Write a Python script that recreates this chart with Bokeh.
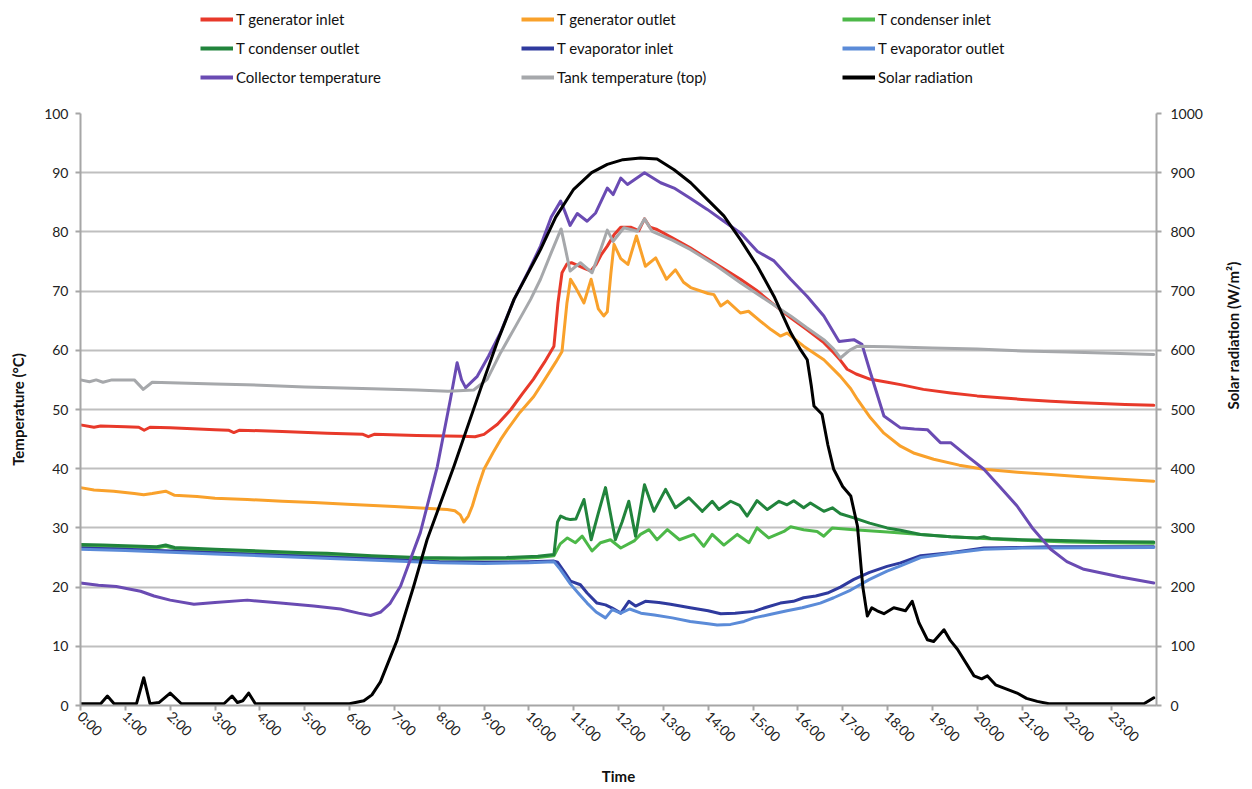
import math
from bokeh.plotting import figure
from bokeh.layouts import column
from bokeh.models import Range1d, LinearAxis, FixedTicker, Legend, LegendItem
from bokeh.embed import file_html
from bokeh.resources import INLINE

# ---------------- data (hours, value) ----------------
hour_ticks = list(range(24))
hour_labels = [f"{h}:00" for h in hour_ticks]
temp_ticks = list(range(0, 101, 10))
solar_ticks = list(range(0, 1001, 100))

gen_in_t = [0.0, 0.3, 0.45, 1.0, 1.3, 1.42, 1.55, 2.0, 3.0, 3.3, 3.42, 3.55, 4.5, 5.5, 6.3, 6.42, 6.55, 7.5, 8.5, 8.8,
            9.0, 9.3, 9.6, 9.85, 10.1, 10.35, 10.56, 10.65, 10.74, 10.85, 10.95, 11.1, 11.25, 11.38, 11.5, 11.62,
            11.75, 11.9, 12.05, 12.27, 12.45, 12.58, 12.7, 12.86, 13.2, 13.6, 14.0, 14.4, 14.72, 15.1, 15.5, 15.84,
            16.2, 16.58, 16.8, 16.95, 17.1, 17.3, 17.62, 18.0, 18.29, 18.8, 19.41, 20.0, 20.52, 21.0, 21.64, 22.2,
            22.75, 23.3, 23.94]
gen_in_v = [47.4, 47.0, 47.2, 47.1, 47.0, 46.5, 47.0, 46.9, 46.6, 46.5, 46.1, 46.5, 46.3, 46.0, 45.8, 45.4, 45.8, 45.6,
            45.5, 45.4, 45.8, 47.5, 50.0, 52.6, 55.1, 58.0, 60.7, 68.0, 73.1, 74.6, 74.8, 74.3, 73.8, 73.4, 74.5, 76.2,
            77.6, 79.5, 80.8, 80.8, 80.2, 82.2, 80.8, 80.4, 79.0, 77.3, 75.4, 73.5, 72.0, 70.0, 67.5, 65.5, 63.5, 61.3,
            59.6, 58.3, 56.8, 56.0, 55.1, 54.6, 54.2, 53.4, 52.8, 52.3, 52.0, 51.7, 51.4, 51.2, 51.0, 50.85, 50.7]

gen_out_t = [0.0, 0.3, 0.74, 1.2, 1.41, 1.6, 1.9, 2.1, 2.6, 3.0, 3.72, 4.5, 5.2, 5.95, 7.0, 8.18, 8.35, 8.47, 8.55, 8.65,
             8.74, 8.87, 9.0, 9.2, 9.37, 9.52, 9.8, 10.11, 10.35, 10.6, 10.74, 10.85, 10.93, 11.05, 11.23, 11.39,
             11.55, 11.67, 11.75, 11.83, 11.9, 12.05, 12.21, 12.4, 12.6, 12.83, 13.07, 13.27, 13.45, 13.61, 14.0,
             14.13, 14.28, 14.43, 14.72, 14.9, 15.17, 15.4, 15.61, 15.76, 16.13, 16.58, 16.95, 17.18, 17.33, 17.62,
             17.92, 18.29, 18.6, 19.03, 19.6, 20.15, 20.9, 21.64, 22.4, 23.2, 23.94]
gen_out_v = [36.8, 36.4, 36.2, 35.8, 35.6, 35.8, 36.2, 35.5, 35.3, 35.0, 34.8, 34.5, 34.3, 34.0, 33.6, 33.1, 32.9, 32.2,
             31.0, 32.0, 33.7, 37.0, 39.9, 42.7, 44.9, 46.6, 49.5, 52.2, 55.0, 58.0, 59.8, 68.0, 72.0, 70.5, 68.0,
             72.0, 67.0, 65.8, 66.5, 73.0, 77.9, 75.5, 74.5, 79.3, 74.2, 75.6, 72.0, 73.6, 71.5, 70.6, 69.6, 69.4,
             67.5, 68.3, 66.3, 66.6, 64.9, 63.5, 62.4, 62.9, 60.7, 58.4, 55.6, 53.5, 51.7, 48.6, 46.0, 43.8, 42.6,
             41.6, 40.6, 39.9, 39.4, 39.0, 38.6, 38.2, 37.9]

cond_in_t = [0.0, 0.5, 1.0, 1.7, 1.9, 2.1, 3.0, 4.0, 5.0, 6.5, 7.5, 8.5, 9.5, 10.2, 10.56, 10.7, 10.86, 11.04, 11.19,
             11.41, 11.6, 11.82, 12.05, 12.35, 12.49, 12.68, 12.86, 13.09, 13.36, 13.68, 13.9, 14.09, 14.35, 14.65,
             14.91, 15.09, 15.35, 15.69, 15.84, 16.13, 16.43, 16.58, 16.77, 17.25, 18.0, 18.74, 19.41, 20.15, 21.0,
             22.0, 23.0, 23.94]
cond_in_v = [27.0, 26.9, 26.8, 26.6, 26.9, 26.5, 26.2, 25.9, 25.6, 25.1, 24.8, 24.7, 24.8, 25.0, 25.3, 27.3, 28.3,
             27.5, 28.6, 26.1, 27.5, 28.0, 26.6, 27.8, 28.9, 29.7, 28.0, 29.7, 28.0, 28.9, 26.9, 28.9, 27.1, 28.9,
             27.5, 30.0, 28.3, 29.4, 30.2, 29.7, 29.4, 28.6, 30.0, 29.7, 29.3, 28.9, 28.5, 28.2, 27.9, 27.6, 27.5,
             27.4]

cond_out_t = [0.0, 0.5, 1.0, 1.7, 1.9, 2.1, 3.0, 4.0, 5.0, 5.5, 6.5, 7.5, 8.5, 9.5, 10.2, 10.56, 10.64, 10.71, 10.82,
              10.93, 11.05, 11.23, 11.39, 11.55, 11.71, 11.93, 12.08, 12.23, 12.38, 12.58, 12.79, 13.05, 13.27, 13.57,
              13.87, 14.09, 14.24, 14.5, 14.7, 14.87, 15.09, 15.32, 15.58, 15.76, 15.91, 16.13, 16.28, 16.58, 16.77,
              16.95, 17.25, 17.6, 17.99, 18.29, 18.74, 19.41, 20.0, 20.15, 20.3, 21.0, 21.64, 22.8, 23.94]
cond_out_v = [27.2, 27.1, 27.0, 26.8, 27.1, 26.7, 26.4, 26.1, 25.8, 25.7, 25.3, 25.0, 24.9, 25.0, 25.2, 25.5, 31.0,
              32.0, 31.6, 31.4, 31.5, 34.8, 28.0, 32.5, 36.8, 28.0, 31.0, 34.5, 28.6, 37.3, 32.8, 36.5, 33.4, 35.1,
              32.8, 34.5, 33.1, 34.5, 33.8, 32.0, 34.6, 33.1, 34.5, 33.9, 34.6, 33.4, 34.2, 32.8, 33.4, 32.4, 31.7,
              30.8, 30.0, 29.6, 28.9, 28.5, 28.3, 28.5, 28.2, 28.0, 27.9, 27.7, 27.6]

evap_in_t = [0.0, 1.0, 2.0, 3.0, 4.0, 5.0, 6.0, 7.0, 8.0, 9.0, 10.0, 10.56, 10.64, 10.8, 10.93, 11.15, 11.3, 11.52,
             11.71, 11.85, 12.05, 12.23, 12.38, 12.6, 12.9, 13.16, 13.6, 14.0, 14.28, 14.6, 15.02, 15.3, 15.61, 15.9,
             16.13, 16.4, 16.66, 16.95, 17.25, 17.6, 17.99, 18.29, 18.74, 19.41, 20.15, 21.0, 21.64, 23.94]
evap_in_v = [26.6, 26.4, 26.1, 25.8, 25.5, 25.2, 24.9, 24.6, 24.3, 24.2, 24.3, 24.4, 24.2, 22.5, 21.0, 20.4, 19.0,
             17.3, 17.0, 16.5, 15.6, 17.6, 16.8, 17.6, 17.4, 17.1, 16.5, 16.0, 15.5, 15.6, 15.9, 16.6, 17.3, 17.6,
             18.2, 18.5, 19.0, 20.0, 21.3, 22.5, 23.5, 24.1, 25.3, 25.8, 26.6, 26.7, 26.8, 26.8]

evap_out_t = [0.0, 1.0, 2.0, 3.0, 4.0, 5.0, 6.0, 7.0, 8.0, 9.0, 10.0, 10.56, 10.7, 10.93, 11.1, 11.3, 11.5, 11.71,
              11.86, 12.05, 12.25, 12.5, 12.8, 13.2, 13.6, 14.0, 14.2, 14.5, 14.8, 15.02, 15.4, 15.76, 16.1, 16.5,
              16.8, 17.18, 17.6, 17.99, 18.29, 18.74, 19.41, 20.15, 21.0, 23.94]
evap_out_v = [26.4, 26.2, 25.9, 25.6, 25.3, 25.0, 24.7, 24.4, 24.1, 24.0, 24.1, 24.3, 23.0, 20.5, 19.0, 17.3, 15.8,
              14.8, 16.2, 15.6, 16.3, 15.6, 15.3, 14.8, 14.2, 13.8, 13.6, 13.7, 14.2, 14.8, 15.4, 16.0, 16.5, 17.3,
              18.2, 19.5, 21.3, 22.7, 23.6, 25.0, 25.7, 26.4, 26.6, 26.7]

coll_t = [0.0, 0.4, 0.8, 1.34, 1.64, 2.0, 2.53, 3.0, 3.72, 4.46, 5.2, 5.8, 6.2, 6.47, 6.7, 6.9, 7.14, 7.36, 7.58,
          7.96, 8.25, 8.4, 8.5, 8.59, 8.85, 9.1, 9.37, 9.67, 10.0, 10.26, 10.5, 10.71, 10.8, 10.92, 11.08, 11.3,
          11.49, 11.75, 11.88, 12.05, 12.2, 12.58, 12.94, 13.24, 13.6, 13.98, 14.35, 14.72, 15.1, 15.47, 15.84,
          16.21, 16.58, 16.92, 17.25, 17.43, 17.62, 17.92, 18.29, 18.6, 18.89, 19.18, 19.41, 19.8, 20.15, 20.5,
          20.89, 21.25, 21.64, 22.0, 22.38, 23.2, 23.94]
coll_v = [20.7, 20.3, 20.1, 19.3, 18.5, 17.8, 17.1, 17.4, 17.8, 17.3, 16.8, 16.3, 15.6, 15.2, 15.8, 17.2, 20.2, 24.7,
          29.2, 40.4, 51.7, 57.9, 55.0, 53.7, 55.6, 59.0, 63.0, 68.6, 73.5, 77.6, 82.5, 85.2, 83.5, 81.1, 83.1, 81.8,
          83.2, 87.4, 86.3, 89.1, 88.0, 90.0, 88.3, 87.4, 85.7, 83.8, 81.8, 79.8, 76.7, 75.1, 72.0, 69.1, 65.8, 61.5,
          61.8, 61.0, 56.2, 48.9, 46.9, 46.7, 46.6, 44.4, 44.4, 42.0, 39.9, 37.0, 33.7, 29.8, 26.4, 24.3, 23.0, 21.7,
          20.7]

tank_t = [0.0, 0.2, 0.35, 0.5, 0.7, 1.2, 1.4, 1.6, 2.0, 3.0, 3.7, 5.0, 6.5, 7.5, 8.2, 8.77, 9.07, 9.37, 9.7, 10.04,
          10.26, 10.5, 10.72, 10.82, 10.92, 11.15, 11.41, 11.6, 11.75, 11.88, 12.12, 12.42, 12.58, 12.75, 13.2,
          13.61, 14.2, 14.72, 15.3, 15.84, 16.2, 16.58, 16.8, 16.95, 17.15, 17.33, 18.0, 19.0, 20.0, 21.0, 22.0,
          23.0, 23.94]
tank_v = [55.0, 54.7, 55.0, 54.6, 55.0, 55.0, 53.4, 54.6, 54.5, 54.3, 54.2, 53.8, 53.5, 53.3, 53.1, 53.3, 55.1, 59.6,
          64.0, 68.6, 72.0, 76.5, 80.5, 77.0, 73.4, 74.8, 73.1, 77.0, 80.3, 78.4, 80.7, 80.1, 82.2, 80.1, 78.6, 77.0,
          74.2, 71.4, 68.5, 65.8, 63.8, 61.8, 60.2, 58.7, 60.0, 60.7, 60.6, 60.4, 60.2, 59.9, 59.7, 59.5, 59.3]

solar_t = [0.0, 0.45, 0.6, 0.75, 1.25, 1.41, 1.55, 1.75, 2.0, 2.25, 3.2, 3.38, 3.5, 3.62, 3.75, 3.9, 6.0, 6.32, 6.5,
           6.69, 7.06, 7.43, 7.73, 8.33, 8.92, 9.3, 9.67, 10.26, 10.6, 11.0, 11.4, 11.75, 12.1, 12.49, 12.86, 13.24,
           13.61, 13.98, 14.35, 14.72, 15.1, 15.47, 15.84, 16.06, 16.21, 16.3, 16.36, 16.54, 16.67, 16.8, 17.0,
           17.18, 17.33, 17.45, 17.55, 17.65, 17.77, 17.92, 18.14, 18.4, 18.55, 18.7, 18.89, 19.03, 19.26, 19.4,
           19.56, 19.93, 20.1, 20.23, 20.41, 20.89, 21.1, 21.34, 21.6, 23.72, 23.94]
solar_v = [3, 3, 16, 3, 3, 47, 3, 5, 21, 3, 3, 16, 5, 8, 21, 3, 3, 8, 18, 40, 110, 201, 280, 404, 534, 615, 686, 770,
           825, 872, 900, 914, 922, 925, 923, 905, 883, 855, 827, 787, 742, 691, 630, 601, 584, 540, 506, 492, 440,
           399, 370, 354, 303, 200, 151, 165, 160, 155, 165, 160, 176, 140, 111, 108, 128, 110, 95, 50, 45, 50, 35,
           21, 12, 7, 3, 3, 13]

series = [
    ("T generator inlet", gen_in_t, gen_in_v, "#E8392A", None),
    ("T generator outlet", gen_out_t, gen_out_v, "#F9A12B", None),
    ("T condenser inlet", cond_in_t, cond_in_v, "#4CB848", None),
    ("T condenser outlet", cond_out_t, cond_out_v, "#21843C", None),
    ("T evaporator inlet", evap_in_t, evap_in_v, "#2F3A9E", None),
    ("T evaporator outlet", evap_out_t, evap_out_v, "#5B8BD8", None),
    ("Collector temperature", coll_t, coll_v, "#6A4BB3", None),
    ("Tank temperature (top)", tank_t, tank_v, "#A6A8AB", None),
    ("Solar radiation", solar_t, solar_v, "#000000", "solar"),
]

FONT = "Lato"
AXIS_GREY = "#A6A6A6"
FRAME_W = 1076
FRAME_H = 592
LEFT = 80
LEG_FIG_H = 95

# ---------------- main chart ----------------
p = figure(frame_width=FRAME_W, frame_height=FRAME_H, output_backend="svg", toolbar_location=None,
           x_range=Range1d(0, 24), y_range=Range1d(0, 100),
           min_border_left=LEFT, min_border_right=5, min_border_top=18, min_border_bottom=5)
p.extra_y_ranges = {"solar": Range1d(0, 1000)}
p.outline_line_color = None
p.background_fill_color = "white"

p.xgrid.visible = False
p.ygrid.ticker = FixedTicker(ticks=temp_ticks)
p.ygrid.grid_line_color = "#BFBFBF"
p.ygrid.grid_line_width = 2

xa = p.xaxis[0]
xa.ticker = FixedTicker(ticks=hour_ticks)
xa.major_label_overrides = {h: lab for h, lab in zip(hour_ticks, hour_labels)}
xa.major_label_orientation = -math.pi / 4
xa.axis_label = "Time"

ya = p.yaxis[0]
ya.ticker = FixedTicker(ticks=temp_ticks)
ya.axis_label = "Temperature (°C)"

ra = LinearAxis(y_range_name="solar", ticker=FixedTicker(ticks=solar_ticks),
                axis_label="Solar radiation (W/m²)")
p.add_layout(ra, "right")
ra.axis_label_orientation = math.pi / 2

for ax in [xa, ya, ra]:
    ax.axis_line_color = AXIS_GREY
    ax.axis_line_width = 2
    ax.major_tick_line_color = AXIS_GREY
    ax.major_tick_line_width = 2
    ax.major_tick_in = 0
    ax.major_tick_out = 5
    ax.minor_tick_line_color = None
    ax.major_label_text_font = FONT
    ax.major_label_text_font_size = "14px"
    ax.major_label_text_color = "#222222"
    ax.axis_label_text_font = FONT
    ax.axis_label_text_font_size = "15px"
    ax.axis_label_text_font_style = "bold"
    ax.axis_label_text_color = "#111111"
ya.major_label_standoff = 7
ra.major_label_standoff = 9
xa.major_label_standoff = 3
ya.axis_label_standoff = 14
ra.axis_label_standoff = 27
xa.axis_label_standoff = 13

for name, t, v, col, rng in series:
    kw = {"y_range_name": rng} if rng else {}
    p.line(t, v, line_color=col, line_width=3, line_join="round", line_cap="round", **kw)

# ---------------- legend strip above the chart ----------------
lf = figure(width=LEFT + FRAME_W + 80, height=LEG_FIG_H, output_backend="svg", toolbar_location=None,
            x_axis_type=None, y_axis_type=None, x_range=Range1d(0, 1), y_range=Range1d(0, 1),
            min_border=0)
lf.outline_line_color = None
lf.xgrid.visible = False
lf.ygrid.visible = False
items = []
for name, t, v, col, rng in series:
    # proxy line kept outside the visible range; only its legend swatch shows
    r = lf.line([-5, -4], [-5, -4], line_color=col, line_width=4)
    items.append(LegendItem(label=name, renderers=[r]))
LEG_H = 3 * 26 + 2 * 3
legend = Legend(items=items, location=(120, LEG_FIG_H - 6 - LEG_H), orientation="horizontal", ncols=3,
                glyph_width=33, glyph_height=26, label_height=26, label_width=282,
                spacing=3, padding=0, margin=0, label_standoff=3,
                border_line_alpha=0, background_fill_alpha=0,
                label_text_font=FONT, label_text_font_size="15px", label_text_color="#111111")
lf.add_layout(legend, "center")

layout = column(lf, p, spacing=0)
open("out.html", "w").write(file_html(layout, INLINE))
